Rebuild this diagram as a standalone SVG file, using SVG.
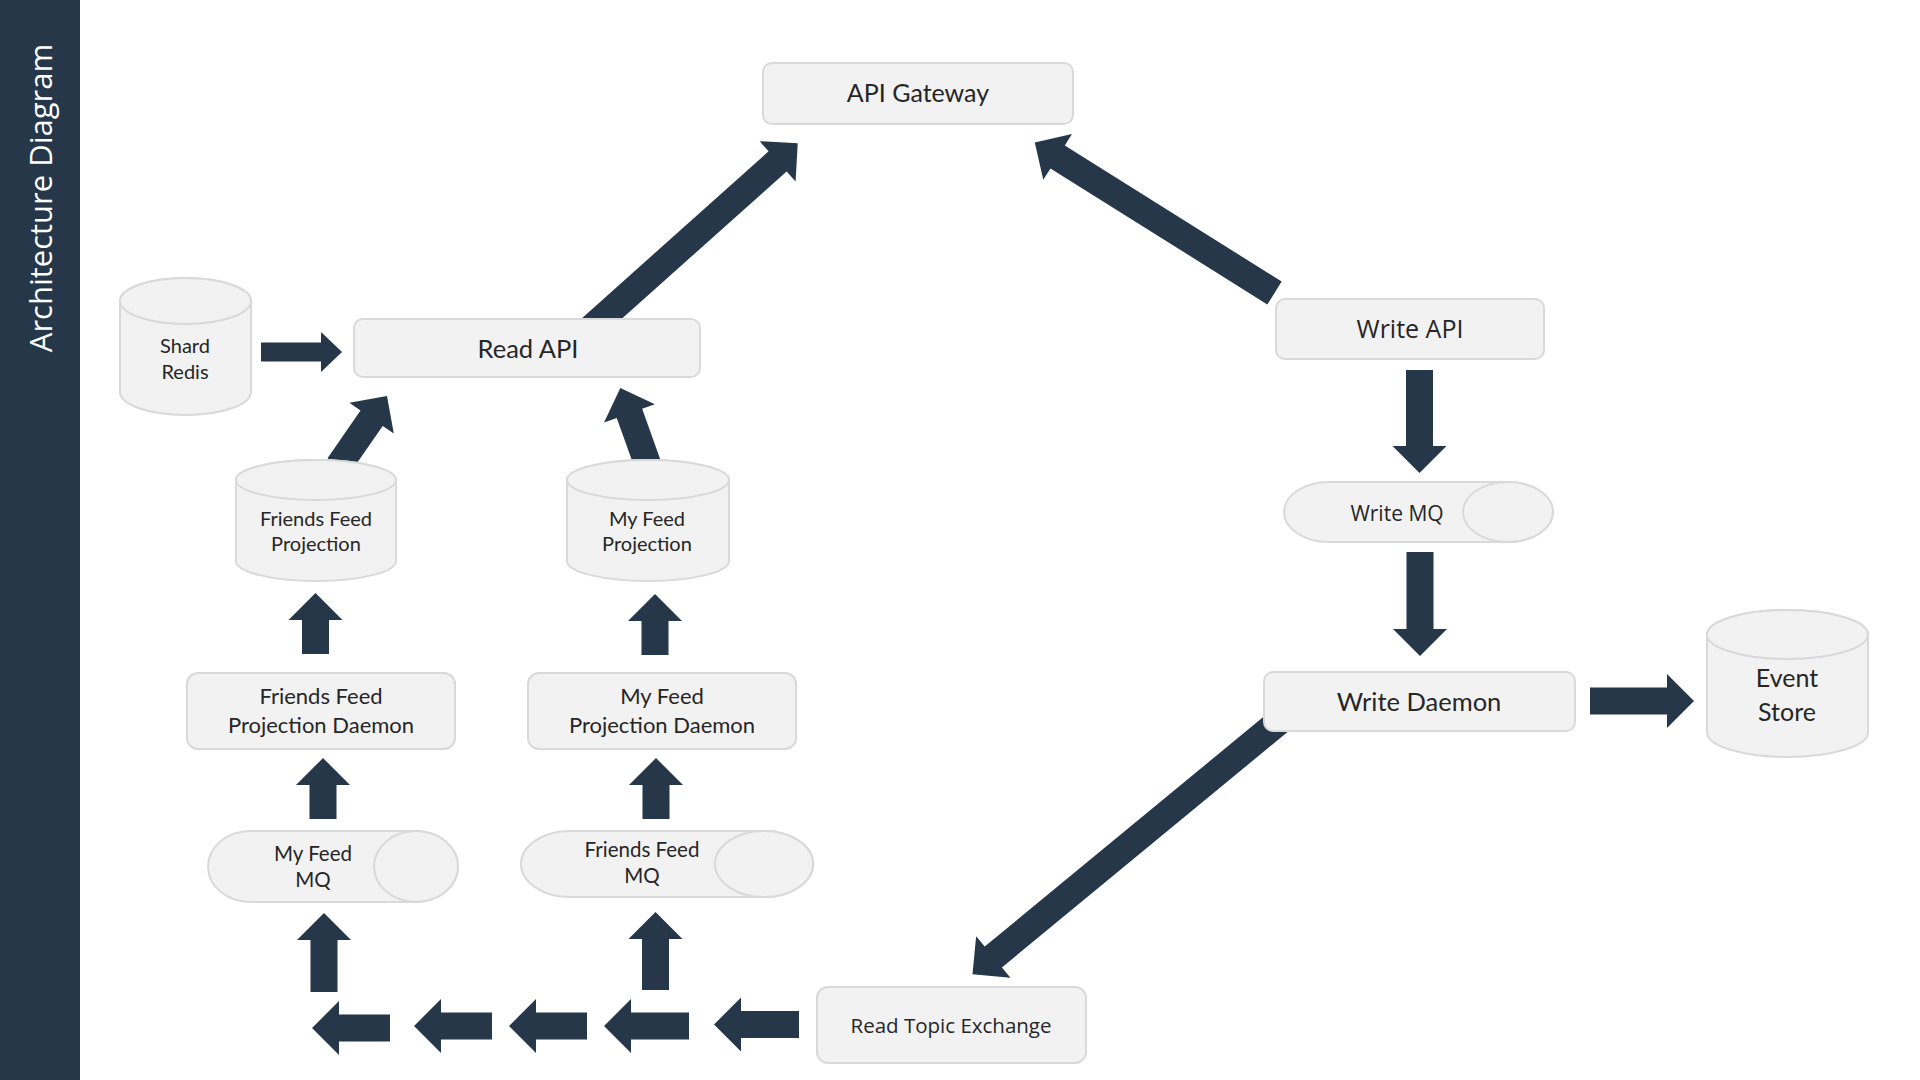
<svg xmlns="http://www.w3.org/2000/svg" width="1920" height="1080" viewBox="0 0 1920 1080">
<style>
.arr{fill:#253748}
.box{fill:#f2f2f2;stroke:#d9d9d9;stroke-width:2}
.c{font-family:Lato,"Liberation Sans",sans-serif;fill:#262626;text-anchor:middle}
.s{font-family:"Open Sans","Liberation Sans",sans-serif;fill:#262626;text-anchor:middle}
</style>
<rect x="0" y="0" width="1920" height="1080" fill="#ffffff"/>
<g id="sidebar">
<rect x="0" y="0" width="80" height="1080" fill="#253748"/>
<text x="52" y="198" transform="rotate(-90 52 198)" font-family="'Open Sans','Liberation Sans',sans-serif" font-size="31" fill="#ffffff" text-anchor="middle">Architecture Diagram</text>
</g>
<g id="connectors">
<polygon class="arr" transform="translate(589,330) rotate(-41.8)" points="0,-13.5 253,-13.5 253,-27 280,0 253,27 253,13.5 0,13.5"/>
<polygon class="arr" transform="translate(1274.5,293) rotate(-147.9)" points="0,-13.5 256,-13.5 256,-27 283,0 256,27 256,13.5 0,13.5"/>
<polygon class="arr" transform="translate(261,352)" points="0,-9.5 60,-9.5 60,-20 81,0 60,20 60,9.5 0,9.5"/>
<polygon class="arr" transform="translate(338.6,465.9) rotate(-55.3)" points="0,-13.5 58,-13.5 58,-27 85,0 58,27 58,13.5 0,13.5"/>
<polygon class="arr" transform="translate(649,468) rotate(-109.7)" points="0,-13.5 58,-13.5 58,-27 85,0 58,27 58,13.5 0,13.5"/>
<polygon class="arr" transform="translate(1419.5,370) rotate(90)" points="0,-13.5 76,-13.5 76,-27 103,0 76,27 76,13.5 0,13.5"/>
<polygon class="arr" transform="translate(1420,552) rotate(90)" points="0,-13.5 77,-13.5 77,-27 104,0 77,27 77,13.5 0,13.5"/>
<polygon class="arr" transform="translate(1590,701)" points="0,-13.5 77,-13.5 77,-27 104,0 77,27 77,13.5 0,13.5"/>
<polygon class="arr" transform="translate(1285,716.6) rotate(140.5)" points="0,-13.5 378,-13.5 378,-27 405,0 378,27 378,13.5 0,13.5"/>
<polygon class="arr" transform="translate(799,1024.5) rotate(180)" points="0,-13.5 58,-13.5 58,-27 85,0 58,27 58,13.5 0,13.5"/>
<polygon class="arr" transform="translate(689,1026) rotate(180)" points="0,-13.5 58,-13.5 58,-27 85,0 58,27 58,13.5 0,13.5"/>
<polygon class="arr" transform="translate(587,1026) rotate(180)" points="0,-13.5 51,-13.5 51,-27 78,0 51,27 51,13.5 0,13.5"/>
<polygon class="arr" transform="translate(492,1026) rotate(180)" points="0,-13.5 51,-13.5 51,-27 78,0 51,27 51,13.5 0,13.5"/>
<polygon class="arr" transform="translate(390,1028) rotate(180)" points="0,-13.5 51,-13.5 51,-27 78,0 51,27 51,13.5 0,13.5"/>
<polygon class="arr" transform="translate(655.5,990) rotate(-90)" points="0,-13.5 51,-13.5 51,-27 78,0 51,27 51,13.5 0,13.5"/>
<polygon class="arr" transform="translate(324,992) rotate(-90)" points="0,-13.5 52,-13.5 52,-27 79,0 52,27 52,13.5 0,13.5"/>
<polygon class="arr" transform="translate(323,819) rotate(-90)" points="0,-13.5 34,-13.5 34,-27 61,0 34,27 34,13.5 0,13.5"/>
<polygon class="arr" transform="translate(656,819) rotate(-90)" points="0,-13.5 34,-13.5 34,-27 61,0 34,27 34,13.5 0,13.5"/>
<polygon class="arr" transform="translate(315.5,654) rotate(-90)" points="0,-13.5 34,-13.5 34,-27 61,0 34,27 34,13.5 0,13.5"/>
<polygon class="arr" transform="translate(655,655) rotate(-90)" points="0,-13.5 34,-13.5 34,-27 61,0 34,27 34,13.5 0,13.5"/>
</g>
<g id="api-gateway">
<rect class="box" x="763" y="63" width="310" height="61" rx="9"/>
<text class="c" x="918" y="102" font-size="25">API Gateway</text>
</g>
<g id="read-api">
<rect class="box" x="354" y="319" width="346" height="58" rx="9"/>
<text class="c" x="528" y="358" font-size="25.5">Read API</text>
</g>
<g id="write-api">
<rect class="box" x="1276" y="299" width="268" height="60" rx="9"/>
<text class="s" x="1410" y="338" font-size="25">Write API</text>
</g>
<g id="write-mq">
<path class="box" d="M1329,482 L1508,482 A45,30 0 0 1 1508,542 L1329,542 A45,30 0 0 1 1329,482 Z"/>
<ellipse class="box" cx="1508" cy="512" rx="45" ry="30"/>
<text class="s" x="1397" y="521" font-size="21">Write MQ</text>
</g>
<g id="write-daemon">
<rect class="box" x="1264" y="672" width="311" height="59" rx="9"/>
<text class="c" x="1419" y="711" font-size="25.5">Write Daemon</text>
</g>
<g id="event-store">
<path class="box" d="M1707,634.5 L1707,732.5 A80.5,24.5 0 0 0 1868,732.5 L1868,634.5 A80.5,24.5 0 0 0 1707,634.5 Z"/>
<ellipse class="box" cx="1787.5" cy="634.5" rx="80.5" ry="24.5"/>
<text class="c" x="1787" y="687" font-size="25">Event</text>
<text class="c" x="1787" y="721" font-size="25">Store</text>
</g>
<g id="read-topic-exchange">
<rect class="box" x="817" y="987" width="269" height="76" rx="11"/>
<text class="s" x="951" y="1033" font-size="20.5">Read Topic Exchange</text>
</g>
<g id="shard-redis">
<path class="box" d="M120,301 L120,392 A65.5,23 0 0 0 251,392 L251,301 A65.5,23 0 0 0 120,301 Z"/>
<ellipse class="box" cx="185.5" cy="301" rx="65.5" ry="23"/>
<text class="c" x="185" y="353" font-size="20">Shard</text>
<text class="c" x="185" y="379" font-size="20">Redis</text>
</g>
<g id="friends-feed-projection">
<path class="box" d="M236,480 L236,561 A80,20 0 0 0 396,561 L396,480 A80,20 0 0 0 236,480 Z"/>
<ellipse class="box" cx="316" cy="480" rx="80" ry="20"/>
<text class="c" x="316" y="526" font-size="20">Friends Feed</text>
<text class="c" x="316" y="551" font-size="20">Projection</text>
</g>
<g id="my-feed-projection">
<path class="box" d="M567,480 L567,561 A81,20 0 0 0 729,561 L729,480 A81,20 0 0 0 567,480 Z"/>
<ellipse class="box" cx="648" cy="480" rx="81" ry="20"/>
<text class="c" x="647" y="526" font-size="20">My Feed</text>
<text class="c" x="647" y="551" font-size="20">Projection</text>
</g>
<g id="friends-feed-projection-daemon">
<rect class="box" x="187" y="673" width="268" height="76" rx="11"/>
<text class="c" x="321" y="704" font-size="22">Friends Feed</text>
<text class="c" x="321" y="733" font-size="22">Projection Daemon</text>
</g>
<g id="my-feed-projection-daemon">
<rect class="box" x="528" y="673" width="268" height="76" rx="11"/>
<text class="c" x="662" y="704" font-size="22">My Feed</text>
<text class="c" x="662" y="733" font-size="22">Projection Daemon</text>
</g>
<g id="my-feed-mq">
<path class="box" d="M250,831 L416,831 A42,35.5 0 0 1 416,902 L250,902 A42,35.5 0 0 1 250,831 Z"/>
<ellipse class="box" cx="416" cy="866.5" rx="42" ry="35.5"/>
<text class="c" x="313" y="861" font-size="20.5">My Feed</text>
<text class="c" x="313" y="887" font-size="20.5">MQ</text>
</g>
<g id="friends-feed-mq">
<path class="box" d="M570,831 L764,831 A49,33 0 0 1 764,897 L570,897 A49,33 0 0 1 570,831 Z"/>
<ellipse class="box" cx="764" cy="864" rx="49" ry="33"/>
<text class="c" x="642" y="857" font-size="20.5">Friends Feed</text>
<text class="c" x="642" y="883" font-size="20.5">MQ</text>
</g>
</svg>
